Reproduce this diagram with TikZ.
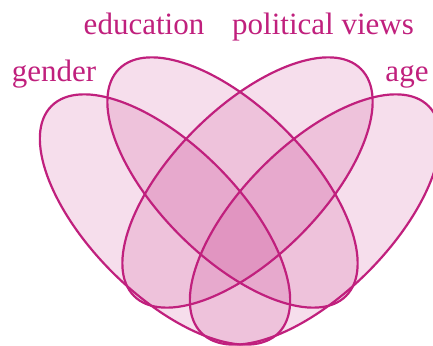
\documentclass[tikz,border=0pt]{standalone}
\usepackage{fontspec}
\setmainfont{Liberation Serif}
\usepackage{tikz}
\usepackage{xcolor}
\usetikzlibrary{shapes.geometric}
\definecolor{vennMag}{RGB}{192,32,125}

\begin{document}
\begin{tikzpicture}[
    x=1pt,y=1pt,
    vset/.style={ellipse,draw=vennMag,line width=2.2pt,fill=vennMag,fill opacity=0.15,
      minimum width=321pt,minimum height=149pt,inner sep=0pt},
    lbl/.style={text=vennMag,font=\fontsize{31}{36}\selectfont,anchor=base,inner sep=0pt}
  ]
    \clip (0,0) rectangle (433,345);
    \node[vset,rotate=-45] (gender) at (165,125.5) {};
    \node[vset,rotate=-45] (edu) at (232.5,162.5) {};
    \node[vset,rotate=45] (pol) at (247.5,162.5) {};
    \node[vset,rotate=45] (age) at (315,125.5) {};
    \node[lbl] (genderlbl) at (54,263) {gender};
    \node[lbl] (edulbl) at (144,310) {education};
    \node[lbl] (pollbl) at (323,310) {political views};
    \node[lbl] (agelbl) at (407,263) {age};
  \end{tikzpicture}
\end{document}
